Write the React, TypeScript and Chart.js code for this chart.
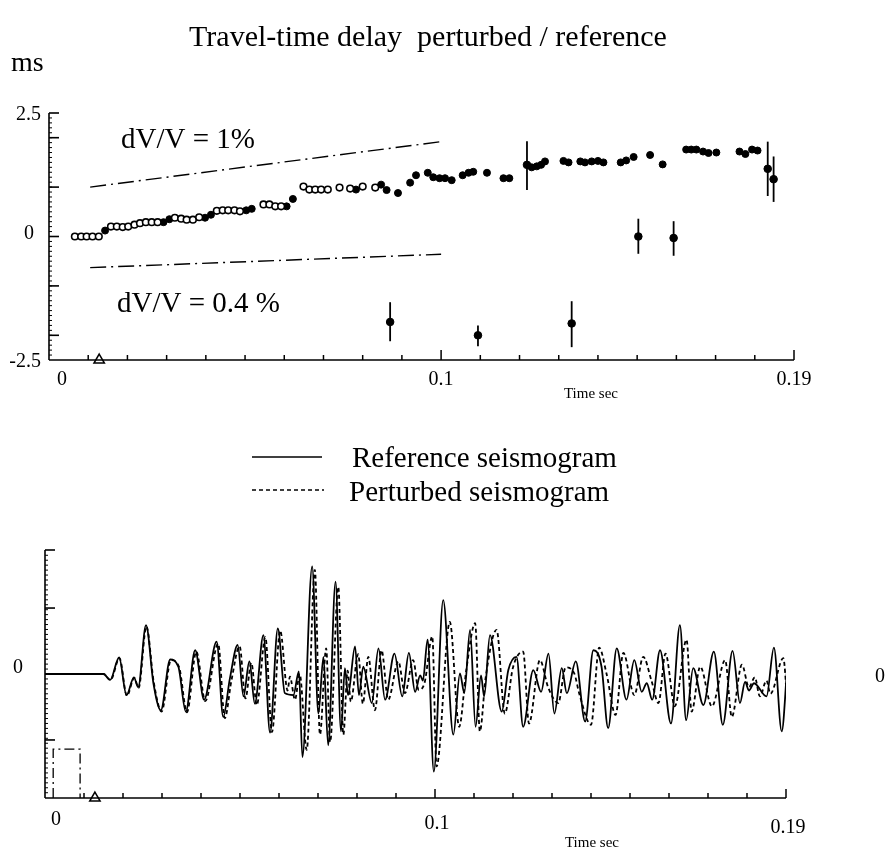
import React, { useEffect, useRef } from "react";
import { Chart, registerables } from "chart.js";
Chart.register(...registerables);

// ---------- Top panel: travel-time delay (ms) vs time (ms) ----------
const openTimes = [6.6, 8.2, 9.6, 11.1, 12.7, 15.8, 17.3, 18.8, 20.2, 21.8, 23.2, 24.7, 26.2, 27.7, 32.1, 33.7, 35.1, 36.7, 38.3, 42.8, 44.3, 45.7, 47.3, 48.7, 54.7, 56.2, 57.7, 59.2, 64.9, 66.4, 67.9, 69.4, 71.1, 74.1, 76.8, 80.0, 83.2];
const openValues = [0, 0, 0, 0, 0, 0.2, 0.2, 0.19, 0.2, 0.24, 0.27, 0.29, 0.29, 0.29, 0.38, 0.36, 0.34, 0.34, 0.39, 0.52, 0.53, 0.53, 0.53, 0.51, 0.65, 0.65, 0.61, 0.61, 1.01, 0.95, 0.95, 0.95, 0.95, 0.99, 0.97, 1.01, 0.99];
const filledTimes = [14.3, 29.2, 30.7, 39.8, 41.3, 50.3, 51.7, 60.6, 62.2, 78.3, 84.7, 86.1, 89.0, 92.1, 93.6, 96.6, 98.0, 99.6, 101.0, 102.7, 105.5, 107.0, 108.2, 111.7, 115.9, 117.4, 123.1, 124.4, 125.5, 126.5, 131.2, 132.5, 135.5, 136.7, 138.4, 140.0, 141.4, 145.8, 147.2, 149.1, 153.3, 156.5, 162.5, 163.8, 165.1, 166.8, 168.2, 170.2, 176.1, 177.6, 179.3, 180.7];
const filledValues = [0.12, 0.29, 0.35, 0.38, 0.44, 0.53, 0.56, 0.61, 0.76, 0.95, 1.05, 0.94, 0.88, 1.09, 1.24, 1.29, 1.2, 1.18, 1.18, 1.14, 1.24, 1.29, 1.31, 1.29, 1.18, 1.18, 1.4, 1.42, 1.45, 1.52, 1.53, 1.5, 1.52, 1.5, 1.52, 1.53, 1.5, 1.5, 1.54, 1.61, 1.65, 1.46, 1.76, 1.76, 1.76, 1.72, 1.69, 1.7, 1.72, 1.67, 1.76, 1.74];
const barTimes = [121.9, 183.3, 184.8, 87.0, 109.4, 133.3, 150.3, 159.3];
const barValues = [1.45, 1.37, 1.16, -1.73, -2.0, -1.76, 0.0, -0.03];
const barHigh = [1.93, 1.92, 1.62, -1.33, -1.8, -1.31, 0.36, 0.31];
const barLow = [0.94, 0.82, 0.7, -2.12, -2.22, -2.24, -0.35, -0.39];
const dv1Times = [10.5, 100];
const dv1Values = [1.0, 1.92];
const dv04Times = [10.5, 100];
const dv04Values = [-0.63, -0.36];
const onsetTime = 12.8;
const delayMin = -2.5;
const delayMax = 2.5;
const delayMajorTicks = [2, 1, 0, -1, -2];
const delayTickLabels = ["2.5", "0", "-2.5"];
const delayTickValues = [2.5, 0, -2.5];

// ---------- Bottom panel: seismograms ----------
const refTimes = [0, 15, 16.7, 19.0, 20.9, 22.8, 23.9, 25.9, 27.8, 29.7, 32.1, 34.2, 36.1, 38.5, 40.8, 44.0, 45.7, 47.4, 49.4, 50.9, 52.4, 53.8, 56.0, 57.7, 59.7, 61.5, 63.7, 65.1, 66.0, 68.5, 70.1, 71.4, 72.6, 74.5, 75.9, 76.9, 77.7, 79.5, 80.5, 81.6, 83.8, 85.5, 87.2, 89.6, 91.6, 93.3, 94.9, 96.2, 96.9, 98.1, 99.7, 102.1, 104.7, 106.4, 107.5, 109.0, 110.4, 111.8, 112.6, 114.1, 117.1, 118.8, 120.9, 122.6, 125.2, 127.2, 129.1, 130.6, 132.5, 133.8, 136.1, 138.5, 140.6, 142.7, 144.4, 146.6, 149.1, 151.1, 153.0, 154.3, 155.7, 157.7, 160.5, 162.8, 164.4, 166.2, 168.8, 171.5, 173.8, 176.3, 178.2, 179.5, 180.5, 181.8, 185.0, 186.9, 188.9, 190.3];
const refAmps = [0, 0, -0.09, 0.25, -0.32, -0.05, -0.2, 0.74, -0.14, -0.55, 0.22, 0.11, -0.57, 0.36, -0.39, 0.49, -0.65, -0.07, 0.44, -0.34, 0.19, -0.45, 0.59, -0.89, 0.69, -0.29, -0.32, 0.04, -1.26, 1.63, -0.6, 0.26, -1.08, 1.4, -0.87, 0.09, -0.32, 0.42, -0.32, 0.11, -0.44, 0.39, -0.39, 0.31, -0.34, 0.32, -0.27, -0.02, -0.1, 0.52, -1.48, 1.12, -0.92, 0.01, -0.29, 0.67, -0.8, -0.02, -0.34, 0.59, -0.57, 0.06, 0.26, -0.8, 0.06, -0.27, 0.31, -0.6, 0.09, -0.29, 0.19, -0.72, 0.36, 0.11, -0.82, 0.39, -0.39, 0.21, -0.27, -0.14, -0.39, 0.36, -0.75, 0.74, -0.7, 0.09, -0.47, 0.34, -0.77, 0.35, -0.44, -0.12, -0.25, -0.14, -0.34, 0.4, -0.87, 0.09];
const pertTimes = [0, 15, 16.8, 19.1, 21.0, 22.9, 24.0, 26.0, 27.9, 29.9, 32.3, 34.4, 36.4, 38.8, 41.1, 44.4, 46.1, 47.8, 49.9, 51.4, 52.9, 54.3, 56.5, 58.2, 60.3, 62.2, 62.8, 64.1, 65.3, 67.1, 69.2, 70.5, 72.1, 73.1, 75.2, 76.5, 77.6, 78.4, 80.3, 81.5, 82.9, 84.6, 86.3, 88.0, 90.6, 92.3, 94.4, 95.8, 97.3, 99.3, 100.4, 103.8, 106.2, 108.0, 110.3, 111.5, 113.0, 115.8, 117.9, 120.0, 122.6, 124.1, 126.9, 129.0, 131.6, 133.5, 135.7, 137.0, 140.0, 142.1, 144.0, 146.3, 148.3, 151.1, 153.4, 155.5, 157.3, 159.1, 161.5, 164.5, 165.8, 168.0, 171.0, 174.4, 176.1, 178.7, 180.5, 182.0, 183.3, 185.0, 186.0, 189.3, 190.6];
const pertAmps = [0, 0, -0.09, 0.24, -0.33, -0.06, -0.21, 0.72, -0.13, -0.57, 0.21, 0.1, -0.58, 0.34, -0.41, 0.46, -0.67, -0.1, 0.42, -0.37, 0.17, -0.47, 0.56, -0.88, 0.66, -0.25, -0.04, -0.39, 0.0, -1.15, 1.58, -0.92, 0.39, -1.03, 1.32, -0.92, 0.05, -0.42, 0.3, -0.45, 0.26, -0.55, 0.36, -0.39, 0.19, -0.29, 0.21, -0.24, -0.14, 0.57, -1.4, 0.79, -0.8, 0.05, 0.77, -0.87, -0.05, 0.67, -0.6, 0.1, 0.34, -0.75, 0.21, -0.2, -0.44, 0.1, 0.01, -0.3, -0.77, 0.4, 0.0, -0.62, 0.32, -0.32, 0.26, -0.1, -0.44, 0.31, -0.49, 0.52, -0.57, 0.11, -0.49, 0.21, -0.65, 0.14, -0.2, -0.05, -0.34, -0.1, -0.3, 0.24, -0.75];
const sourceTimes = [2.1, 2.1, 9.0, 9.0];
const sourceAmps = [-1.88, -1.14, -1.14, -1.88];
const ampMin = -1.88;
const ampMax = 1.88;
const ampMajorTicks = [1, -1];

const timeMax = 190;
const timeTickValues = [0, 100, 190];
const timeTickLabels = ["0", "0.1", "0.19"];

const SERIF = '"Liberation Serif", "Times New Roman", serif';
const pts = (xs: number[], ys: number[]) => xs.map((x, i) => ({ x, y: ys[i] }));

function line(ctx: CanvasRenderingContext2D, x1: number, y1: number, x2: number, y2: number) {
  ctx.beginPath();
  ctx.moveTo(x1, y1);
  ctx.lineTo(x2, y2);
  ctx.stroke();
}
function text(ctx: CanvasRenderingContext2D, s: string, x: number, y: number, size: number, align: CanvasTextAlign = "left", baseline: CanvasTextBaseline = "alphabetic") {
  ctx.font = `${size}px ${SERIF}`;
  ctx.textAlign = align;
  ctx.textBaseline = baseline;
  ctx.fillStyle = "#000";
  ctx.fillText(s, x, y);
}

const topPlugin = {
  id: "topAxes",
  beforeDatasetsDraw(chart: any) {
    const { ctx, scales } = chart;
    const xs = scales.x, ys = scales.y;
    ctx.save();
    ctx.strokeStyle = "#000";
    ctx.lineWidth = 1.8;
    barTimes.forEach((t, i) => {
      const px = xs.getPixelForValue(t);
      line(ctx, px, ys.getPixelForValue(barHigh[i]), px, ys.getPixelForValue(barLow[i]));
    });
    ctx.restore();
  },
  afterDraw(chart: any) {
    const { ctx, scales } = chart;
    const xs = scales.x, ys = scales.y;
    const x0 = xs.getPixelForValue(0);
    const xEnd = xs.getPixelForValue(timeMax);
    const yTop = ys.getPixelForValue(delayMax);
    const yBot = ys.getPixelForValue(delayMin);
    ctx.save();
    ctx.strokeStyle = "#000";
    ctx.lineWidth = 1.6;
    line(ctx, x0, yTop, x0, yBot);
    line(ctx, x0, yTop, x0 + 10, yTop);
    line(ctx, x0, yBot, xEnd, yBot);
    delayMajorTicks.forEach((v) => line(ctx, x0, ys.getPixelForValue(v), x0 + 10, ys.getPixelForValue(v)));
    ctx.lineWidth = 1;
    for (let v = -2.4; v < 2.45; v += 0.1) {
      line(ctx, x0, ys.getPixelForValue(v), x0 + 3, ys.getPixelForValue(v));
    }
    ctx.lineWidth = 1.5;
    for (let t = 10; t <= timeMax; t += 10) {
      const px = xs.getPixelForValue(t);
      const len = t === 100 || t === timeMax ? 10 : 5;
      line(ctx, px, yBot, px, yBot - len);
    }
    // tick labels
    delayTickValues.forEach((v, i) => {
      const off = v === 0 ? 15 : 8;
      text(ctx, delayTickLabels[i], x0 - off, ys.getPixelForValue(v) + (v === 0 ? -3 : 2), 20, "right", "middle");
    });
    timeTickValues.forEach((t, i) => {
      const px = xs.getPixelForValue(t) + (t === 0 ? 13 : 0);
      text(ctx, timeTickLabels[i], px, yBot + 20, 20, "center", "middle");
    });
    text(ctx, "Time sec", 591, yBot + 34, 15, "center", "middle");
    // titles / annotations
    text(ctx, "Travel-time delay  perturbed / reference", 428, 46, 30, "center");
    text(ctx, "ms", 11, 71, 28);
    text(ctx, "dV/V = 1%", 121, 148, 29);
    text(ctx, "dV/V = 0.4 %", 117, 312, 29);
    ctx.restore();
  },
};

const bottomPlugin = {
  id: "bottomAxes",
  afterDraw(chart: any) {
    const { ctx, scales } = chart;
    const xs = scales.x, ys = scales.y;
    const x0 = xs.getPixelForValue(0);
    const xEnd = xs.getPixelForValue(timeMax);
    const yTop = ys.getPixelForValue(ampMax);
    const yBot = ys.getPixelForValue(ampMin);
    const yZero = ys.getPixelForValue(0);
    ctx.save();
    ctx.strokeStyle = "#000";
    ctx.lineWidth = 1.6;
    line(ctx, x0, yTop, x0, yBot);
    line(ctx, x0, yTop, x0 + 10, yTop);
    line(ctx, x0, yBot, xEnd, yBot);
    ampMajorTicks.forEach((v) => line(ctx, x0, ys.getPixelForValue(v), x0 + 10, ys.getPixelForValue(v)));
    ctx.lineWidth = 1;
    for (let v = -1.8; v < 1.85; v += 0.075) {
      line(ctx, x0, ys.getPixelForValue(v), x0 + 3, ys.getPixelForValue(v));
    }
    ctx.lineWidth = 1.5;
    for (let t = 10; t <= timeMax; t += 10) {
      const px = xs.getPixelForValue(t);
      const len = t === 100 || t === timeMax ? 9 : 5;
      line(ctx, px, yBot, px, yBot - len);
    }
    text(ctx, "0", 18, yZero - 6, 20, "center", "middle");
    text(ctx, "0", 880, yZero + 3, 20, "center", "middle");
    timeTickValues.forEach((t, i) => {
      const px = xs.getPixelForValue(t) + (t === 0 ? 11 : 2);
      text(ctx, timeTickLabels[i], px, yBot + 22 + (t / timeMax) * 8, 20, "center", "middle");
    });
    text(ctx, "Time sec", 592, yBot + 45, 15, "center", "middle");
    // legend
    ctx.lineWidth = 1.5;
    line(ctx, 252, 457, 322, 457);
    ctx.setLineDash([4, 3]);
    line(ctx, 252, 490, 324, 490);
    ctx.setLineDash([]);
    text(ctx, "Reference seismogram", 352, 467, 29);
    text(ctx, "Perturbed seismogram", 349, 501, 29);
    ctx.restore();
  },
};

export default function App() {
  const topRef = useRef<HTMLCanvasElement>(null);
  const botRef = useRef<HTMLCanvasElement>(null);

  useEffect(() => {
    const common = {
      animation: false as const,
      responsive: false,
      events: [] as any[],
      plugins: { legend: { display: false }, tooltip: { enabled: false } },
    };
    const top = new Chart(topRef.current!, {
      type: "scatter",
      data: {
        datasets: [
          {
            data: pts(dv1Times, dv1Values),
            showLine: true,
            borderColor: "#000",
            borderWidth: 1.4,
            borderDash: [16, 5, 2, 5],
            pointRadius: 0,
          },
          {
            data: pts(dv04Times, dv04Values),
            showLine: true,
            borderColor: "#000",
            borderWidth: 1.4,
            borderDash: [16, 5, 2, 5],
            pointRadius: 0,
          },
          {
            data: pts(openTimes, openValues),
            pointRadius: 3.3,
            pointBackgroundColor: "#fff",
            pointBorderColor: "#000",
            pointBorderWidth: 1.6,
          },
          {
            data: pts(filledTimes, filledValues),
            pointRadius: 3.5,
            pointBackgroundColor: "#000",
            pointBorderColor: "#000",
            pointBorderWidth: 1,
          },
          {
            data: pts(barTimes, barValues),
            pointRadius: 3.8,
            pointBackgroundColor: "#000",
            pointBorderColor: "#000",
            pointBorderWidth: 1,
          },
          {
            data: [{ x: onsetTime, y: delayMin }],
            pointStyle: "triangle",
            pointRadius: 6,
            pointBackgroundColor: "#fff",
            pointBorderColor: "#000",
            pointBorderWidth: 1.5,
            clip: false,
          } as any,
        ],
      },
      options: {
        ...common,
        layout: { padding: { left: 49, right: 93, top: 113, bottom: 491 } },
        scales: {
          x: { type: "linear", min: 0, max: timeMax, display: false },
          y: { type: "linear", min: delayMin, max: delayMax, display: false },
        },
      },
      plugins: [topPlugin],
    });

    const bottom = new Chart(botRef.current!, {
      type: "scatter",
      data: {
        datasets: [
          {
            data: pts(refTimes, refAmps),
            showLine: true,
            borderColor: "#000",
            borderWidth: 1.8,
            pointRadius: 0,
            cubicInterpolationMode: "monotone",
          } as any,
          {
            data: pts(pertTimes, pertAmps),
            showLine: true,
            borderColor: "#000",
            borderWidth: 1.8,
            borderDash: [4, 3],
            pointRadius: 0,
            cubicInterpolationMode: "monotone",
          } as any,
          {
            data: pts(sourceTimes, sourceAmps),
            showLine: true,
            borderColor: "#000",
            borderWidth: 1.3,
            borderDash: [10, 4, 2, 4],
            pointRadius: 0,
          },
          {
            data: [{ x: onsetTime, y: ampMin }],
            pointStyle: "triangle",
            pointRadius: 6,
            pointBackgroundColor: "#fff",
            pointBorderColor: "#000",
            pointBorderWidth: 1.5,
            clip: false,
          } as any,
        ],
      },
      options: {
        ...common,
        layout: { padding: { left: 45, right: 101, top: 550, bottom: 53 } },
        scales: {
          x: { type: "linear", min: 0, max: timeMax, display: false },
          y: { type: "linear", min: ampMin, max: ampMax, display: false },
        },
      },
      plugins: [bottomPlugin],
    });

    return () => {
      top.destroy();
      bottom.destroy();
    };
  }, []);

  const canvasStyle: React.CSSProperties = { position: "absolute", left: 0, top: 0, width: 887, height: 851 };
  return (
    <div style={{ position: "absolute", left: 0, top: 0, width: 887, height: 851, background: "#fff" }}>
      <canvas ref={topRef} width={887} height={851} style={canvasStyle} />
      <canvas ref={botRef} width={887} height={851} style={canvasStyle} />
    </div>
  );
}
